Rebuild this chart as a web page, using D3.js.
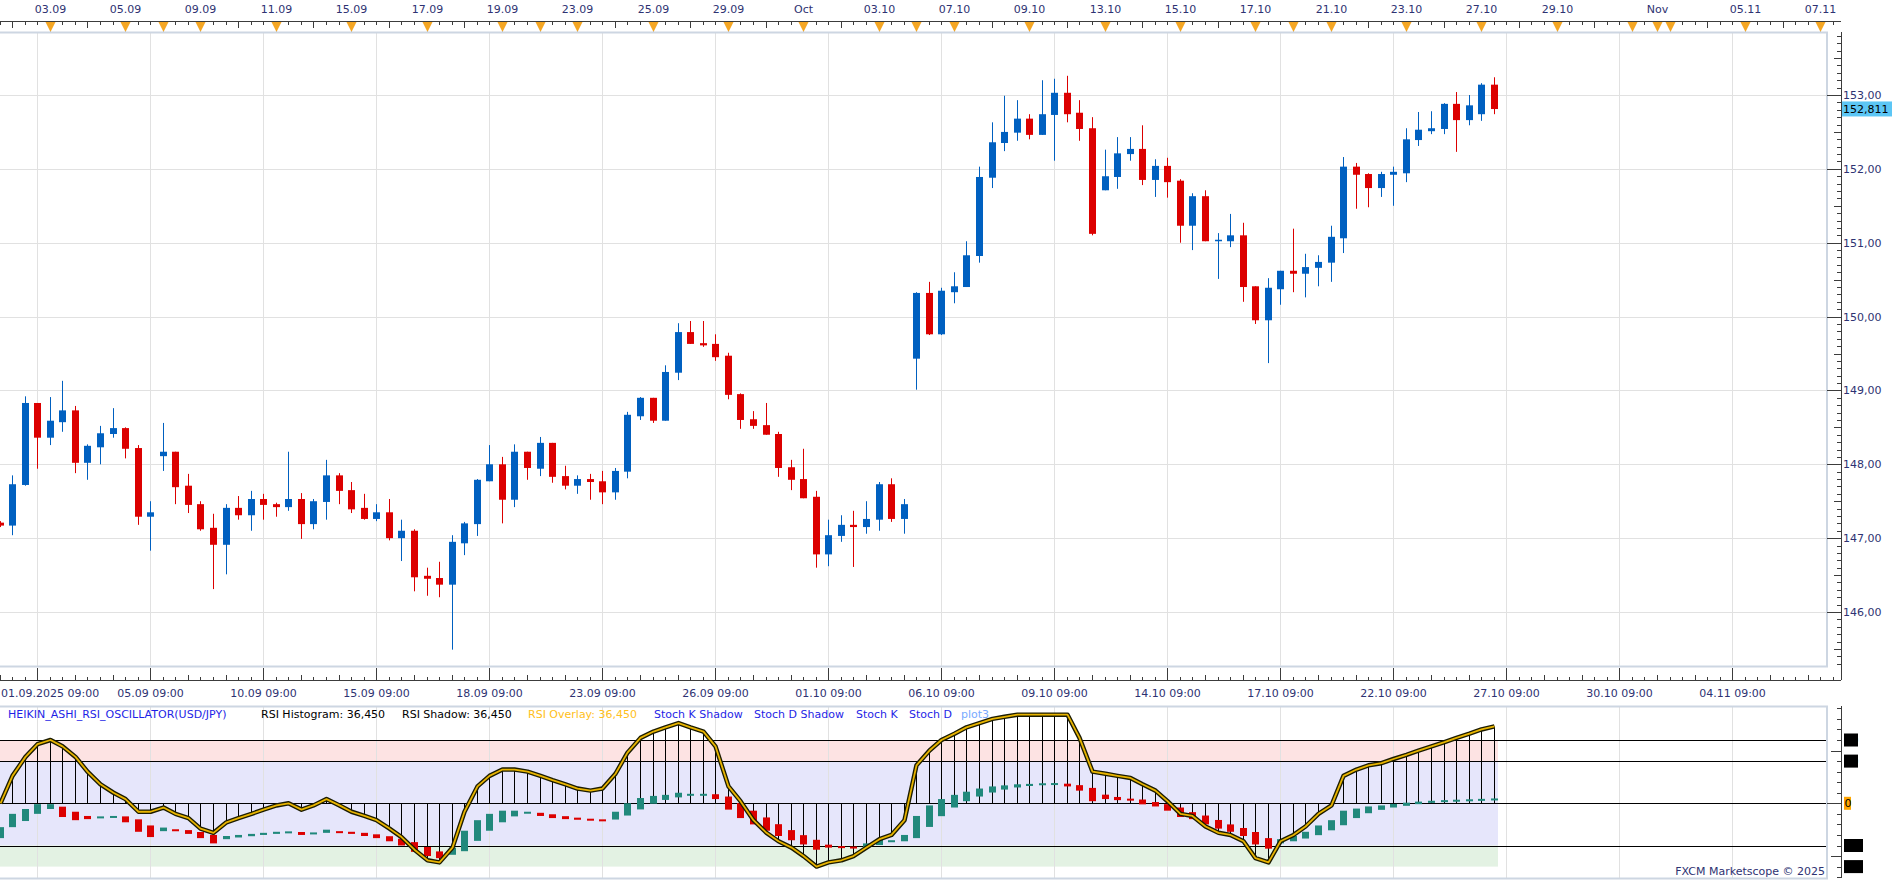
<!DOCTYPE html>
<html>
<head>
<meta charset="utf-8">
<script src="https://cdn.jsdelivr.net/npm/d3@7/dist/d3.min.js"></script>
<style>
  body { margin: 0; background: #fff; }
  svg { display: block; font-family: "DejaVu Sans", Verdana, sans-serif; }
</style>
</head>
<body>
<svg id="chart" width="1899" height="880"></svg>
<script>
// USD/JPY H8 candles, bar 0 = 01.09.2025 09:00
var opens  = [147.21,147.17,147.72,148.83,148.36,148.57,148.73,148.02,148.23,148.41,148.49,148.22,147.29,148.11,148.17,147.71,147.46,147.14,146.91,147.41,
              147.31,147.53,147.46,147.42,147.53,147.19,147.49,147.85,147.65,147.41,147.26,147.35,147.00,147.10,146.49,146.46,146.37,146.93,147.19,147.77,
              148.00,147.52,148.17,147.94,148.29,147.84,147.71,147.80,147.77,147.62,147.90,148.65,148.90,148.59,149.24,149.79,149.64,149.63,149.47,148.95,
              148.61,148.53,148.41,147.96,147.80,147.56,146.78,147.03,147.18,147.15,147.25,147.73,147.26,149.43,150.32,149.76,150.33,150.40,150.82,151.88,
              152.35,152.49,152.68,152.46,152.73,153.03,152.76,152.55,151.71,151.89,152.20,152.27,151.85,152.04,151.84,151.23,151.63,151.03,151.02,151.10,
              150.41,149.95,150.37,150.62,150.58,150.66,150.73,151.06,152.03,151.93,151.74,151.92,151.94,152.39,152.51,152.54,152.88,152.66,152.74,153.14];
var highs  = [147.23,147.85,148.92,148.83,148.91,149.13,148.79,148.27,148.52,148.76,148.50,148.26,147.50,148.56,148.17,147.87,147.50,147.33,147.46,147.57,
              147.64,147.60,147.48,148.17,147.61,147.53,148.06,147.88,147.76,147.60,147.46,147.53,147.25,147.12,146.60,146.68,147.04,147.22,147.80,148.26,
              148.10,148.27,148.17,148.37,148.29,147.98,147.85,147.87,147.91,147.95,148.71,148.91,148.90,149.34,149.91,149.94,149.94,149.76,149.51,148.96,
              148.72,148.83,148.44,148.06,148.21,147.64,147.25,147.31,147.37,147.50,147.76,147.81,147.53,150.33,150.47,150.39,150.60,151.02,152.03,152.63,
              152.99,152.93,152.74,153.20,153.22,153.26,152.93,152.70,152.26,152.43,152.43,152.59,152.13,152.15,151.86,151.67,151.71,151.13,151.39,151.27,
              150.41,150.52,150.62,151.19,150.85,150.83,151.23,152.16,152.08,151.94,151.96,152.03,152.55,152.77,152.78,152.89,153.04,153.00,153.16,153.24];
var lows   = [147.15,147.04,147.71,147.94,148.26,148.44,147.88,147.79,148.00,148.36,148.08,147.18,146.83,147.91,147.46,147.34,147.10,146.31,146.51,147.25,
              147.10,147.25,147.29,147.37,146.99,147.12,147.25,147.46,147.34,147.25,147.23,146.97,146.69,146.28,146.22,146.20,145.49,146.77,147.03,147.77,
              147.20,147.42,147.79,147.84,147.75,147.66,147.60,147.52,147.46,147.52,147.81,148.60,148.56,148.59,149.14,149.63,149.59,149.40,148.88,148.48,
              148.48,148.40,147.83,147.65,147.54,146.60,146.62,146.95,146.61,147.06,147.10,147.22,147.06,149.01,149.75,149.75,150.18,150.40,150.73,151.74,
              152.24,152.38,152.40,152.46,152.11,152.63,152.38,151.10,151.71,151.73,152.11,151.78,151.62,151.61,151.00,150.90,151.02,150.51,150.94,150.20,
              149.90,149.37,150.16,150.33,150.26,150.41,150.47,150.86,151.46,151.48,151.62,151.50,151.82,152.31,152.47,152.47,152.23,152.59,152.65,152.74];
var closes = [147.17,147.73,148.83,148.36,148.59,148.73,148.02,148.25,148.42,148.49,148.21,147.29,147.35,148.17,147.69,147.45,147.12,146.91,147.41,147.31,
              147.53,147.45,147.42,147.53,147.19,147.50,147.85,147.64,147.39,147.26,147.35,147.00,147.10,146.47,146.45,146.37,146.95,147.20,147.79,148.00,
              147.52,148.17,147.95,148.29,147.83,147.71,147.80,147.76,147.62,147.91,148.67,148.90,148.59,149.25,149.79,149.63,149.61,149.45,148.94,148.60,
              148.52,148.40,147.95,147.79,147.54,146.78,147.04,147.18,147.15,147.26,147.73,147.26,147.46,150.32,149.76,150.35,150.41,150.83,151.89,152.36,
              152.50,152.68,152.46,152.74,153.03,152.74,152.54,151.12,151.90,152.21,152.27,151.85,152.04,151.82,151.23,151.63,151.02,151.04,151.10,150.40,
              149.95,150.39,150.62,150.58,150.67,150.74,151.08,152.03,151.92,151.74,151.93,151.96,152.40,152.53,152.55,152.88,152.66,152.86,153.14,152.81];

// oscillator: RSI - 50 per bar
var rsiOsc = [0,13,22,28,30,27,22,15,9,5,2,-4,-4,-2,-5,-7,-12,-14,-9,-7,
              -5,-3,-1,0,-3,-1,2,-1,-4,-6,-8,-12,-16,-22,-27,-28,-21,-4,8,13,
              16,16,15,13,11,9,7,6,7,14,24,31,34,36,38,36,34,27,8,1,
              -8,-14,-18,-21,-25,-30,-28,-27,-25,-21,-17,-15,-8,18,25,30,33,36,38,40,
              41,42,42,42,42,42,31,15,14,13,12,9,6,1,-5,-6,-11,-14,-15,-18,
              -26,-28,-18,-15,-11,-5,-1,13,16,18,19,21,23,25,27,29,31,33,35,36.45];
// heikin-ashi bodies of the oscillator
var haOpen  = [-16.5,-11.3,-8.4,-5,-2.7,-1.6,-4,-6,-6.8,-6.5,-6.2,-7.6,-10.5,-13.2,-12.3,-12.7,-13.6,-15,-17,-16.2,
               -15.6,-15,-14.5,-14,-13.6,-14.3,-14,-13.2,-13.5,-14,-14.7,-15.6,-16.8,-18.4,-20.7,-22.8,-24.4,-22.7,-17.8,-13,
               -9,-6.2,-4.9,-4.5,-5.2,-6.1,-6.8,-7.3,-7.6,-7.7,-5.8,-2.9,-0.2,1.6,2.8,3.9,4.2,4.3,3.2,0.1,
               -3.5,-6.7,-9.9,-12.7,-15.1,-17.3,-19.6,-20.3,-20.5,-20.7,-19.8,-18.4,-18,-16.5,-11.2,-6.1,-2,1,3.2,5.1,
               6.5,7.5,8.2,8.7,9.1,9.3,8.6,7.3,4.1,3,2.2,1.8,0.6,-0.4,-2,-4.2,-5.8,-7.9,-10,-11.7,
               -13.6,-16.5,-19,-18,-16.7,-15.1,-12.8,-10.4,-7,-4.7,-3.1,-2,-1.2,-0.4,0.2,0.7,1.1,1.4,1.6,1.9];
var haClose = [-11.3,-5,-2.7,-0.4,-0.4,-6.5,-8,-7.5,-6.2,-6,-9,-13.5,-16,-11.5,-13,-14.5,-16.5,-19,-15.5,-15,
               -14.5,-14,-13.5,-13.3,-15,-13.8,-12.5,-13.8,-14.5,-15.5,-16.5,-18,-20,-23,-25,-26,-21,-13,-8,-5,
               -3.5,-3.5,-4,-6,-7,-7.5,-7.8,-8,-7.8,-4,0,2.5,3.5,4,5,4.5,4.5,2,-3,-7,
               -10,-13,-15.5,-17.5,-19.5,-22,-21,-20.8,-20.8,-19,-17,-17.5,-15,-6,-1,2,4,5.5,7,8,
               8.5,9,9.2,9.5,9.6,8,6,1,2,1.5,1.5,-0.5,-1.5,-3.5,-6.5,-7.5,-10,-12,-13.5,-15.5,
               -19.5,-21.5,-17,-15.5,-13.5,-10.5,-8,-3.5,-2.5,-1.5,-1,-0.3,0.3,0.8,1.2,1.5,1.7,1.9,2.1,2.3];

var priceTicks = [146, 147, 148, 149, 150, 151, 152, 153];
var gridBars = [3, 12, 21, 30, 39, 48, 57, 66, 75, 84, 93, 102, 111, 120, 129, 138];
var bottomLabels = ["02.09 09:00", "05.09 09:00", "10.09 09:00", "15.09 09:00", "18.09 09:00", "23.09 09:00", "26.09 09:00",
                    "01.10 09:00", "06.10 09:00", "09.10 09:00", "14.10 09:00", "17.10 09:00", "22.10 09:00", "27.10 09:00",
                    "30.10 09:00", "04.11 09:00"];
var topBars   = [4, 10, 16, 22, 28, 34, 40, 46, 52, 58, 64, 70, 76, 82, 88, 94, 100, 106, 112, 118, 124, 132, 139, 145];
var topLabels = ["03.09","05.09","09.09","11.09","15.09","17.09","19.09","23.09","25.09","29.09","Oct","03.10",
                 "07.10","09.10","13.10","15.10","17.10","21.10","23.10","27.10","29.10","Nov","05.11","07.11"];
var markerBars = [4, 10, 13, 16, 22, 28, 34, 40, 43, 46, 52, 58, 64, 70, 73, 76, 82, 88, 94, 100, 103, 106, 112, 118, 124, 130, 132, 133, 139, 145];
var oscLevels = [30, 20, 0, -20, -30];
var lastPrice = 152.811;

var BLUE = "#0060c0", RED = "#dc0000", TEAL = "#21897c", TXT = "#2e3272";
var plotRight = 1827, axisX = 1841;
var mainTop = 32, mainBottom = 666;
var oscTop = 706, oscBottom = 878;

var svg = d3.select("#chart");
var x = d3.scaleLinear().domain([0, 146]).range([-0.4, -0.4 + 146 * 12.556]);
var y = d3.scaleLinear().domain([146, 153]).range([612, 95]);
var yo = d3.scaleLinear().domain([-20, 20]).range([845.5, 761.1]);
function px(i) { return Math.round(x(i)); }

var defs = svg.append("defs");
defs.append("clipPath").attr("id", "clipMain").append("rect")
    .attr("x", 0).attr("y", mainTop).attr("width", plotRight).attr("height", mainBottom - mainTop);
defs.append("clipPath").attr("id", "clipOsc").append("rect")
    .attr("x", 0).attr("y", oscTop).attr("width", plotRight).attr("height", oscBottom - oscTop);

// ---------- top time axis ----------
var topAx = svg.append("g");
topAx.append("line").attr("x1", 0).attr("x2", axisX).attr("y1", 21.5).attr("y2", 21.5).attr("stroke", "#3c3c3c");
d3.range(0, 147).forEach(function(i) {
  var len = (i % 3 === 1) ? 6 : 3;
  topAx.append("line").attr("x1", px(i) + 0.5).attr("x2", px(i) + 0.5)
     .attr("y1", 22).attr("y2", 22 + len).attr("stroke", "#3c3c3c");
});
markerBars.forEach(function(i) {
  var cx = px(i) + 0.5;
  topAx.append("line").attr("x1", cx).attr("x2", cx).attr("y1", 22).attr("y2", mainTop)
     .attr("stroke", "#9aa6b8");
  topAx.append("path").attr("d", "M" + (cx - 5) + ",22L" + (cx + 5) + ",22L" + cx + ",32Z")
     .attr("fill", "#f5a623");
});
topAx.selectAll("text").data(topBars).enter().append("text")
   .attr("x", function(d) { return px(d) + 0.5; }).attr("y", 13)
   .attr("text-anchor", "middle").attr("font-size", 11).attr("fill", TXT)
   .text(function(d, k) { return topLabels[k]; });

// ---------- main panel ----------
var main = svg.append("g");
main.append("g").selectAll("line").data(priceTicks).enter().append("line")
    .attr("x1", 0).attr("x2", plotRight).attr("stroke", "#e1e1e1")
    .attr("y1", function(d) { return Math.round(y(d)) + 0.5; })
    .attr("y2", function(d) { return Math.round(y(d)) + 0.5; });
main.append("g").selectAll("line").data(gridBars).enter().append("line")
    .attr("y1", mainTop).attr("y2", mainBottom).attr("stroke", "#e1e1e1")
    .attr("x1", function(d) { return px(d) + 0.5; })
    .attr("x2", function(d) { return px(d) + 0.5; });

var candles = main.append("g").attr("clip-path", "url(#clipMain)")
    .selectAll("g").data(opens).enter().append("g")
    .attr("fill", function(o, i) { return closes[i] >= o ? BLUE : RED; })
    .attr("stroke", function(o, i) { return closes[i] >= o ? BLUE : RED; });
candles.append("line")
    .attr("x1", function(o, i) { return px(i) + 0.5; })
    .attr("x2", function(o, i) { return px(i) + 0.5; })
    .attr("y1", function(o, i) { return y(highs[i]); })
    .attr("y2", function(o, i) { return y(lows[i]); });
candles.append("rect").attr("stroke", "none")
    .attr("x", function(o, i) { return px(i) - 3; }).attr("width", 7)
    .attr("y", function(o, i) { return y(Math.max(o, closes[i])); })
    .attr("height", function(o, i) { return Math.max(1.5, Math.abs(y(o) - y(closes[i]))); });

main.append("rect").attr("x", -2).attr("y", mainTop + 0.5).attr("width", plotRight + 2)
    .attr("height", mainBottom - mainTop).attr("fill", "none").attr("stroke", "#cdd6e2").attr("stroke-width", 2);

// price axis
var pa = svg.append("g");
pa.append("line").attr("x1", axisX + 0.5).attr("x2", axisX + 0.5).attr("y1", mainTop).attr("y2", mainBottom + 14)
  .attr("stroke", "#3c3c3c");
d3.range(1453, 1540).forEach(function(k) {
  var v = k / 10, yy = Math.round(y(v)) + 0.5;
  if (yy < mainTop || yy > mainBottom) return;
  var len = (k % 10 === 0) ? 14 : (k % 5 === 0 ? 7 : 4);
  pa.append("line").attr("x1", axisX - len).attr("x2", axisX).attr("y1", yy).attr("y2", yy).attr("stroke", "#3c3c3c");
});
pa.selectAll("text").data(priceTicks).enter().append("text")
  .attr("x", axisX + 2).attr("y", function(d) { return y(d) + 4; })
  .attr("font-size", 11).attr("fill", TXT)
  .text(function(d) { return d3.format(".2f")(d).replace(".", ","); });
var ly = y(lastPrice);
pa.append("rect").attr("x", axisX + 1).attr("y", ly - 7.5).attr("width", 50).attr("height", 15).attr("fill", "#5cc6f5");
pa.append("text").attr("x", axisX + 2).attr("y", ly + 4).attr("font-size", 11).attr("fill", "#000")
  .text(d3.format(".3f")(lastPrice).replace(".", ","));

// ---------- bottom time axis ----------
var bt = svg.append("g");
bt.append("line").attr("x1", 0).attr("x2", axisX).attr("y1", 680.5).attr("y2", 680.5).attr("stroke", "#3c3c3c");
d3.range(0, 147).forEach(function(i) {
  var major = gridBars.indexOf(i) >= 0;
  var len = major ? 12 : (i % 3 === 0 ? 5 : 3);
  bt.append("line").attr("x1", px(i) + 0.5).attr("x2", px(i) + 0.5)
    .attr("y1", 680 - len).attr("y2", 680).attr("stroke", "#3c3c3c");
});
bt.selectAll("text").data(gridBars.slice(1)).enter().append("text")
  .attr("x", function(d) { return px(d) + 0.5; }).attr("y", 697)
  .attr("text-anchor", "middle").attr("font-size", 11).attr("fill", TXT)
  .text(function(d, k) { return bottomLabels[k + 1]; });
bt.append("text").attr("x", 1).attr("y", 697).attr("font-size", 11).attr("fill", TXT).text("01.09.2025 09:00");

// ---------- oscillator panel ----------
var osc = svg.append("g");
var bandL = 0, bandR = px(119) + 4;
osc.append("rect").attr("x", bandL).attr("width", bandR - bandL).attr("y", yo(30)).attr("height", yo(20) - yo(30)).attr("fill", "#fde3e3");
osc.append("rect").attr("x", bandL).attr("width", bandR - bandL).attr("y", yo(20)).attr("height", yo(-20) - yo(20)).attr("fill", "#e6e6fb");
osc.append("rect").attr("x", bandL).attr("width", bandR - bandL).attr("y", yo(-20)).attr("height", yo(-30) - yo(-20)).attr("fill", "#e3f2e3");
osc.append("g").selectAll("line").data(gridBars).enter().append("line")
   .attr("y1", oscTop).attr("y2", oscBottom).attr("stroke", "#e1e1e1")
   .attr("x1", function(d) { return px(d) + 0.5; })
   .attr("x2", function(d) { return px(d) + 0.5; });
osc.append("g").selectAll("line").data([30, 20, 0, -20]).enter().append("line")
   .attr("x1", 0).attr("x2", plotRight).attr("stroke", "#000")
   .attr("y1", function(d) { return Math.round(yo(d)) + 0.5; })
   .attr("y2", function(d) { return Math.round(yo(d)) + 0.5; });

var oc = osc.append("g").attr("clip-path", "url(#clipOsc)");
oc.append("g").selectAll("line").data(rsiOsc).enter().append("line")
  .attr("x1", function(v, i) { return px(i) + 0.5; })
  .attr("x2", function(v, i) { return px(i) + 0.5; })
  .attr("y1", yo(0)).attr("y2", function(v) { return yo(v); })
  .attr("stroke", "#000").attr("stroke-width", 1);
oc.append("g").selectAll("rect").data(haOpen).enter().append("rect")
  .attr("x", function(o, i) { return px(i) - 3; }).attr("width", 7)
  .attr("y", function(o, i) { return yo(Math.max(o, haClose[i])); })
  .attr("height", function(o, i) { return Math.max(2, Math.abs(yo(o) - yo(haClose[i]))); })
  .attr("fill", function(o, i) { return haClose[i] >= o ? TEAL : RED; });
var rsiLine = d3.line().x(function(v, i) { return px(i) + 0.5; }).y(function(v) { return yo(v); });
oc.append("path").attr("d", rsiLine(rsiOsc)).attr("fill", "none").attr("stroke", "#1c1c00").attr("stroke-width", 4.5)
  .attr("stroke-linejoin", "round");
oc.append("path").attr("d", rsiLine(rsiOsc)).attr("fill", "none").attr("stroke", "#e8b400").attr("stroke-width", 1.8)
  .attr("stroke-linejoin", "round");

osc.append("rect").attr("x", -2).attr("y", oscTop + 0.5).attr("width", plotRight + 2)
   .attr("height", oscBottom - oscTop).attr("fill", "none").attr("stroke", "#cdd6e2").attr("stroke-width", 2);

// oscillator axis
var oa = svg.append("g");
oa.append("line").attr("x1", axisX + 0.5).attr("x2", axisX + 0.5).attr("y1", oscTop).attr("y2", oscBottom).attr("stroke", "#3c3c3c");
d3.range(-35, 50, 5).forEach(function(v) {
  var yy = Math.round(yo(v)) + 0.5;
  if (yy < oscTop || yy > oscBottom) return;
  var len = (v === 25 || v === -25) ? 10 : (v === 0 ? 14 : 4);
  oa.append("line").attr("x1", axisX - len).attr("x2", axisX).attr("y1", yy).attr("y2", yy).attr("stroke", "#3c3c3c");
});
oscLevels.forEach(function(v) {
  var yy = yo(v);
  var label = String(v);
  var w = v === 0 ? 7 : (v < 0 ? 19 : 14);
  oa.append("rect").attr("x", axisX + 3).attr("y", yy - 6.5).attr("width", w).attr("height", 13)
    .attr("fill", v === 0 ? "#ffa500" : "#000");
  oa.append("text").attr("x", axisX + 3.5).attr("y", yy + 4).attr("font-size", 11).attr("fill", "#000").text(label);
});

// legend
var legend = [
  {t: "HEIKIN_ASHI_RSI_OSCILLATOR(USD/JPY)", x: 8, c: "#1f1fe6"},
  {t: "RSI Histogram: 36,450", x: 261, c: "#000"},
  {t: "RSI Shadow: 36,450", x: 402, c: "#000"},
  {t: "RSI Overlay: 36,450", x: 528, c: "#ffc020"},
  {t: "Stoch K Shadow", x: 654, c: "#1f1fe6"},
  {t: "Stoch D Shadow", x: 754, c: "#1f1fe6"},
  {t: "Stoch K", x: 856, c: "#1f1fe6"},
  {t: "Stoch D", x: 909, c: "#1f1fe6"},
  {t: "plot3", x: 961, c: "#78aaff"}
];
svg.append("g").selectAll("text").data(legend).enter().append("text")
   .attr("x", function(d) { return d.x; }).attr("y", 718).attr("font-size", 11)
   .attr("fill", function(d) { return d.c; }).text(function(d) { return d.t; });

svg.append("text").attr("x", 1825).attr("y", 875).attr("text-anchor", "end").attr("font-size", 11)
   .attr("fill", TXT).text("FXCM Marketscope \u00a9 2025");
</script>
</body>
</html>
